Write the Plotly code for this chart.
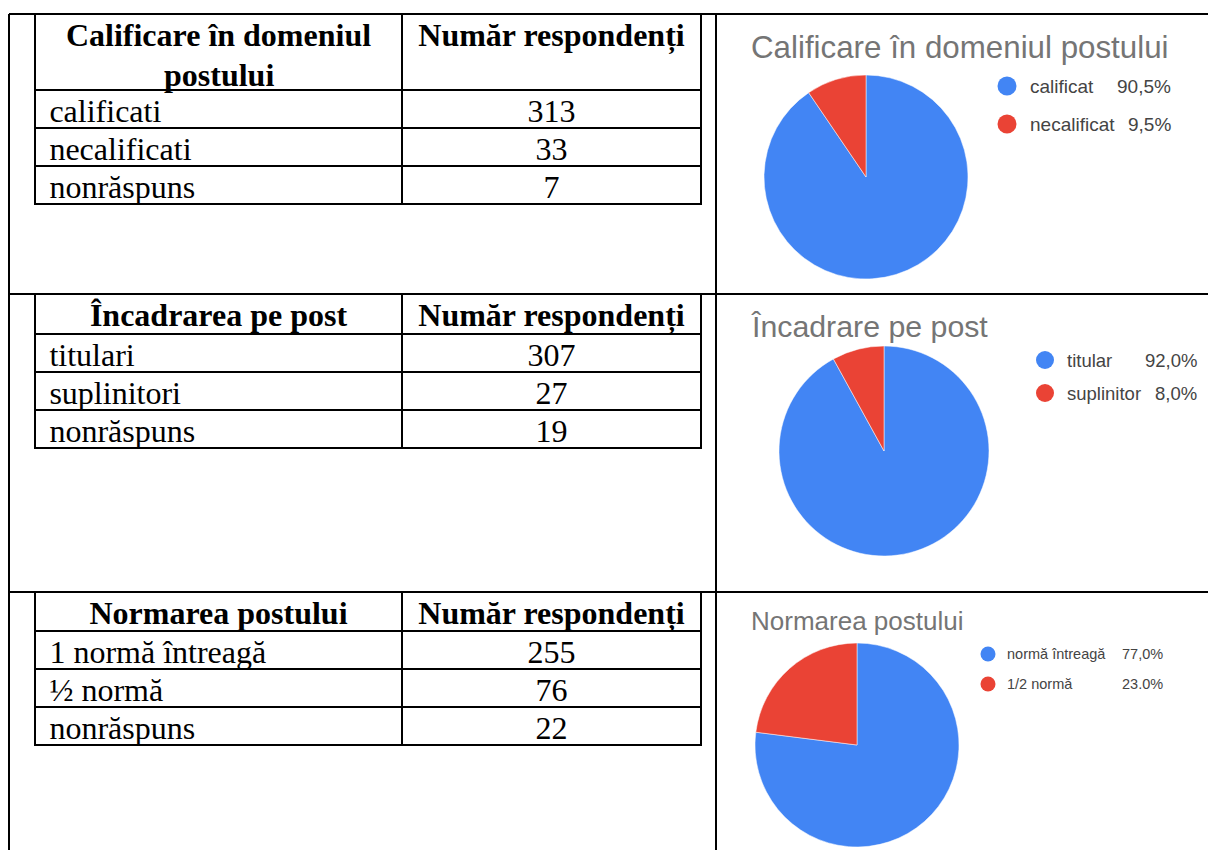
import plotly.graph_objects as go

W, H = 1208, 850

# ---------------- data ----------------
t1_header = ["Calificare în domeniul", "Număr respondenți"]
t1_header_line2 = "postului"
t1_cats = ["calificati", "necalificati", "nonrăspuns"]
t1_vals = [313, 33, 7]

t2_header = ["Încadrarea pe post", "Număr respondenți"]
t2_cats = ["titulari", "suplinitori", "nonrăspuns"]
t2_vals = [307, 27, 19]

t3_header = ["Normarea postului", "Număr respondenți"]
t3_cats = ["1 normă întreagă", "½ normă", "nonrăspuns"]
t3_vals = [255, 76, 22]

p1_title = "Calificare în domeniul postului"
p1_labels = ["calificat", "necalificat"]
p1_values = [90.5, 9.5]
p1_pct = ["90,5%", "9,5%"]

p2_title = "Încadrare pe post"
p2_labels = ["titular", "suplinitor"]
p2_values = [92.0, 8.0]
p2_pct = ["92,0%", "8,0%"]

p3_title = "Normarea postului"
p3_labels = ["normă întreagă", "1/2 normă"]
p3_values = [77.0, 23.0]
p3_pct = ["77,0%", "23.0%"]

BLUE = "#4285F4"
RED = "#EA4335"


def X(px):
    return min(max(px / W, 0.0), 1.0)


def Y(py):
    return min(max(1 - py / H, 0.0), 1.0)


fig = go.Figure()

SERIF = "Liberation Serif"
SANS = "Liberation Sans"
TFS = 32
PAD = "\u2009"


def add_table(header, cats, vals, top, header_h, row_h):
    fig.add_trace(go.Table(
        domain=dict(x=[X(35), X(701)], y=[Y(top + 250), Y(top)]),
        columnwidth=[367, 299],
        header=dict(
            values=header,
            align="center",
            height=header_h,
            font=dict(family=SERIF, size=TFS, color="black", weight="bold"),
            line=dict(color="black", width=2),
            fill_color="white",
        ),
        cells=dict(
            values=[[PAD + c for c in cats], vals],
            align=["left", "center"],
            height=row_h,
            font=dict(family=SERIF, size=TFS, color="black"),
            line=dict(color="black", width=2),
            fill_color="white",
        ),
    ))


add_table(t1_header, t1_cats, t1_vals, 14, 76, 38)
add_table(t2_header, t2_cats, t2_vals, 294, 40, 38)
add_table(t3_header, t3_cats, t3_vals, 592, 39, 38)


def add_pie(values, labels, cx, cy, r):
    fig.add_trace(go.Pie(
        values=values,
        labels=labels,
        domain=dict(x=[X(cx - r), X(cx + r)], y=[Y(cy + r), Y(cy - r)]),
        marker=dict(colors=[BLUE, RED], line=dict(color="white", width=0.5)),
        sort=False,
        direction="clockwise",
        rotation=0,
        textinfo="none",
        showlegend=False,
        hoverinfo="label+percent",
    ))


add_pie(p1_values, p1_labels, 866, 177, 102)
add_pie(p2_values, p2_labels, 884, 451, 105)
add_pie(p3_values, p3_labels, 857, 745, 102)

annotations = []
shapes = []

# second line of the first table's header
annotations.append(dict(
    text=t1_header_line2, x=X(218.5), y=Y(75), xref="paper", yref="paper",
    xanchor="center", yanchor="middle", showarrow=False,
    font=dict(family=SERIF, size=TFS, color="black", weight="bold"),
))


def add_title(text, x, y, size):
    annotations.append(dict(
        text=text, x=X(x), y=Y(y), xref="paper", yref="paper",
        xanchor="left", yanchor="middle", showarrow=False,
        font=dict(family=SANS, size=size, color="#757575"),
    ))


add_title(p1_title, 749, 47, 31.3)
add_title(p2_title, 749, 326, 30.3)
add_title(p3_title, 749, 621, 26)


def add_legend(labels, pcts, mx, ys, tx, px_right, size, mr):
    for lab, pct, yy, col in zip(labels, pcts, ys, [BLUE, RED]):
        shapes.append(dict(
            type="circle", xref="paper", yref="paper",
            x0=X(mx - mr), x1=X(mx + mr), y0=Y(yy + mr), y1=Y(yy - mr),
            fillcolor=col, line=dict(width=0),
        ))
        annotations.append(dict(
            text=lab, x=X(tx), y=Y(yy), xref="paper", yref="paper",
            xanchor="left", yanchor="middle", showarrow=False,
            font=dict(family=SANS, size=size, color="#444444"),
        ))
        annotations.append(dict(
            text=pct, x=X(px_right), y=Y(yy), xref="paper", yref="paper",
            xanchor="right", yanchor="middle", showarrow=False,
            font=dict(family=SANS, size=size, color="#444444"),
        ))


add_legend(p1_labels, p1_pct, 1007, [86, 124], 1028, 1173, 19, 9.5)
add_legend(p2_labels, p2_pct, 1045, [360, 393], 1065, 1199, 18.5, 9)
add_legend(p3_labels, p3_pct, 988, [654, 684], 1005, 1165, 14.5, 7.5)

# outer grid lines
LINE = dict(color="black", width=2)
for xx in [9, 716]:
    shapes.append(dict(type="line", xref="paper", yref="paper",
                       x0=X(xx), x1=X(xx), y0=Y(14), y1=Y(850), line=LINE))
for yy in [14, 294, 592]:
    shapes.append(dict(type="line", xref="paper", yref="paper",
                       x0=X(9), x1=X(1208), y0=Y(yy), y1=Y(yy), line=LINE))

fig.update_layout(
    width=W, height=H,
    margin=dict(l=0, r=0, t=0, b=0),
    paper_bgcolor="white",
    plot_bgcolor="white",
    annotations=annotations,
    shapes=shapes,
)

fig.write_html("out.html", config={"displayModeBar": False},
               post_script="document.body.style.margin='0px';")
